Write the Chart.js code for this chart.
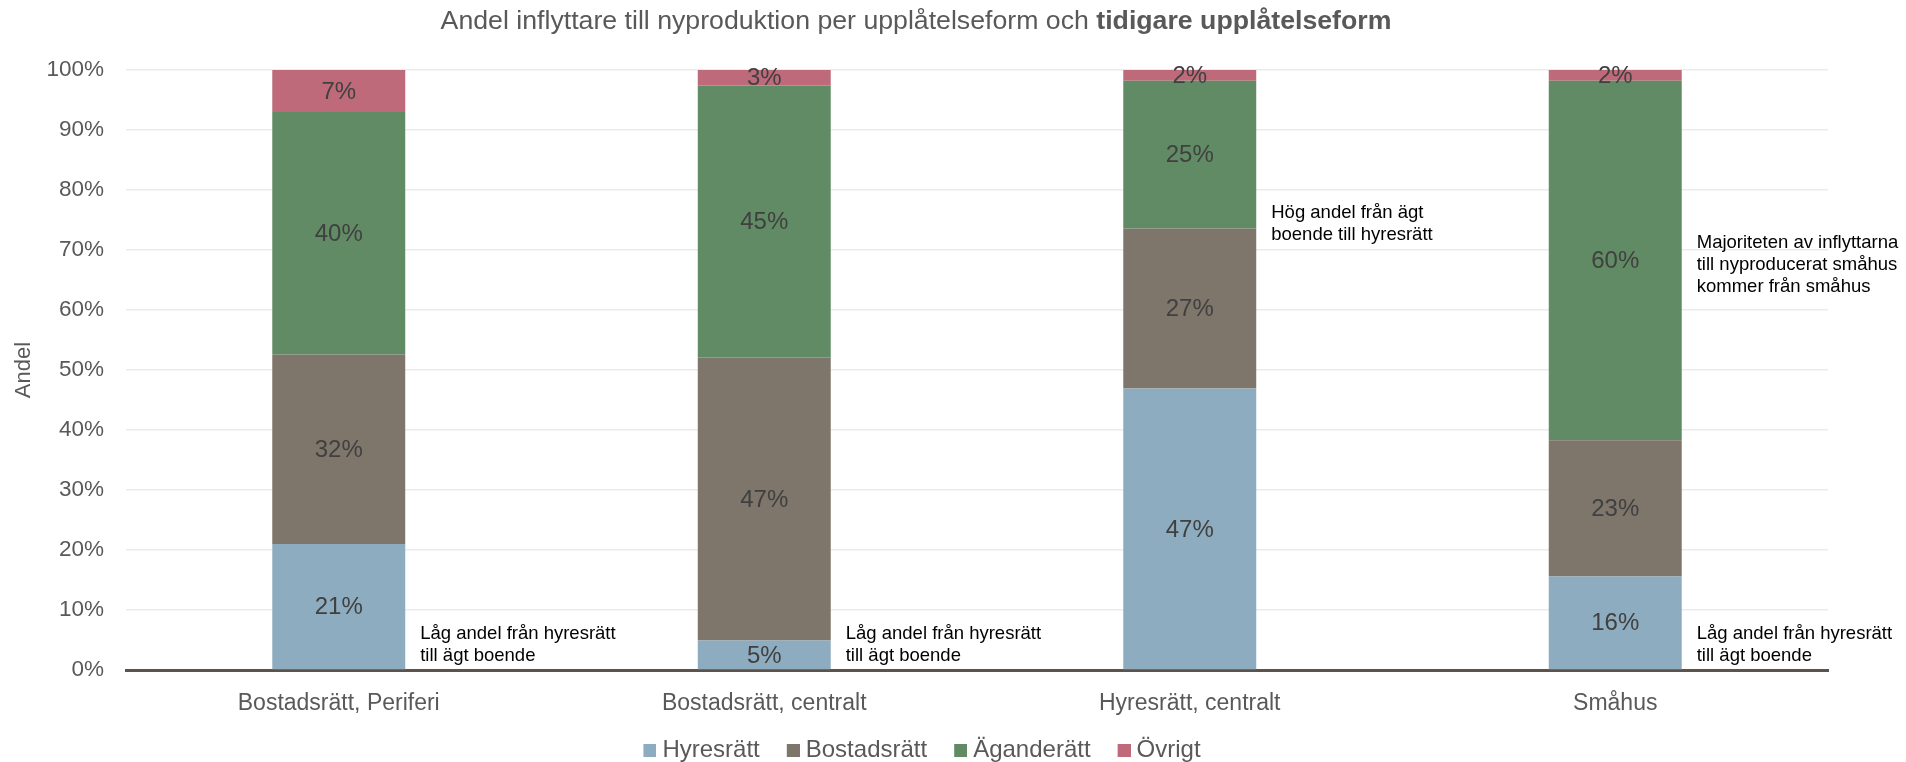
<!DOCTYPE html>
<html>
<head>
<meta charset="utf-8">
<script src="https://cdn.jsdelivr.net/npm/chart.js@4.4.1/dist/chart.umd.min.js"></script>
<style>
  html, body { margin: 0; padding: 0; background: #fff; }
  #wrap { width: 1906px; height: 762px; position: relative; }
</style>
</head>
<body>
<div id="wrap"><canvas id="chart"></canvas></div>
<script>
// Chart data
const categories = ['Bostadsrätt, Periferi', 'Bostadsrätt, centralt', 'Hyresrätt, centralt', 'Småhus'];
const seriesNames = ['Hyresrätt', 'Bostadsrätt', 'Äganderätt', 'Övrigt'];
const hyresratt = [21.0, 4.9, 46.9, 15.6];
const bostadsratt = [31.6, 47.2, 26.7, 22.7];
const aganderatt = [40.4, 45.3, 24.6, 59.9];
const ovrigt = [7.0, 2.6, 1.8, 1.8];
const yTicks = [0, 10, 20, 30, 40, 50, 60, 70, 80, 90, 100];

// Text notes next to the bars (category index, y value in %)
const noteCats = [0, 1, 2, 3, 3];
const noteValues = [6, 6, 76.2, 71.2, 6];
const noteTexts = [
  ['Låg andel från hyresrätt', 'till ägt boende'],
  ['Låg andel från hyresrätt', 'till ägt boende'],
  ['Hög andel från ägt', 'boende till hyresrätt'],
  ['Majoriteten av inflyttarna', 'till nyproducerat småhus', 'kommer från småhus'],
  ['Låg andel från hyresrätt', 'till ägt boende']
];

const FONT = '"Liberation Sans", Arial, sans-serif';
const colors = ['#8eacbf', '#7e756b', '#618b64', '#be6a7a'];

// small square legend markers, drawn on the right side of a wider canvas
// so the gap to the text matches the original
const legendBoxes = colors.map(c => {
  const cv = document.createElement('canvas');
  cv.width = 35;
  cv.height = 13;
  const g = cv.getContext('2d');
  g.fillStyle = c;
  g.fillRect(22, 0, 13, 13);
  return cv;
});

// Title with a bold tail
const titlePlugin = {
  id: 'mixedTitle',
  afterDraw(chart) {
    const ctx = chart.ctx;
    const partA = 'Andel inflyttare till nyproduktion per upplåtelseform och ';
    const partB = 'tidigare upplåtelseform';
    ctx.save();
    ctx.fillStyle = '#595959';
    ctx.textBaseline = 'middle';
    ctx.font = '26.7px ' + FONT;
    const wA = ctx.measureText(partA).width;
    ctx.font = 'bold 26.7px ' + FONT;
    const wB = ctx.measureText(partB).width;
    const x0 = chart.width / 2 - 37 - (wA + wB) / 2;
    ctx.font = '26.7px ' + FONT;
    ctx.fillText(partA, x0, 22);
    ctx.font = 'bold 26.7px ' + FONT;
    ctx.fillText(partB, x0 + wA, 22);
    ctx.restore();
  }
};

// Percentage labels centred in each segment
const valueLabels = {
  id: 'valueLabels',
  afterDatasetsDraw(chart) {
    const ctx = chart.ctx;
    ctx.save();
    ctx.font = '24px ' + FONT;
    ctx.fillStyle = '#404040';
    ctx.textAlign = 'center';
    ctx.textBaseline = 'middle';
    chart.data.datasets.forEach((ds, i) => {
      const meta = chart.getDatasetMeta(i);
      meta.data.forEach((bar, j) => {
        const p = bar.getProps(['x', 'y', 'base'], true);
        ctx.fillText(Math.round(ds.data[j]) + '%', p.x, (p.y + p.base) / 2 + 1);
      });
    });
    ctx.restore();
  }
};

// Notes placed beside the bars
const notesPlugin = {
  id: 'notes',
  afterDraw(chart) {
    const ctx = chart.ctx;
    const yScale = chart.scales.y;
    const meta = chart.getDatasetMeta(0);
    ctx.save();
    ctx.font = '18.5px ' + FONT;
    ctx.fillStyle = '#000';
    ctx.textAlign = 'left';
    ctx.textBaseline = 'middle';
    noteCats.forEach((c, k) => {
      const bar = meta.data[c];
      const p = bar.getProps(['x', 'width'], true);
      const x = p.x + p.width / 2 + 15;
      const y = yScale.getPixelForValue(noteValues[k]);
      noteTexts[k].forEach((line, n) => ctx.fillText(line, x, y + n * 22));
    });
    ctx.restore();
  }
};

const seriesData = [hyresratt, bostadsratt, aganderatt, ovrigt];

new Chart(document.getElementById('chart'), {
  type: 'bar',
  data: {
    labels: categories,
    datasets: seriesNames.map((name, i) => ({
      label: name,
      data: seriesData[i],
      backgroundColor: colors[i],
      borderWidth: 0,
      barPercentage: 0.3125,
      categoryPercentage: 1
    }))
  },
  options: {
    responsive: true,
    maintainAspectRatio: false,
    animation: false,
    layout: { padding: { top: 70, right: 78, left: 0, bottom: -10 } },
    plugins: {
      title: { display: false },
      tooltip: { enabled: false },
      legend: {
        position: 'bottom',
        labels: {
          font: { family: FONT, size: 24 },
          color: '#595959',
          usePointStyle: true,
          pointStyleWidth: 23,
          boxHeight: 13,
          padding: 11,
          generateLabels(chart) {
            const items = Chart.defaults.plugins.legend.labels.generateLabels(chart);
            items.forEach((it, i) => { it.pointStyle = legendBoxes[i]; });
            return items;
          }
        }
      }
    },
    scales: {
      x: {
        stacked: true,
        grid: { display: false, drawTicks: false },
        border: { display: true, color: '#5b534c', width: 3 },
        ticks: {
          font: { family: FONT, size: 23 },
          color: '#595959',
          padding: 20
        },
        afterFit(scale) { scale.height = 57; }
      },
      y: {
        stacked: true,
        min: 0,
        max: 100,
        afterBuildTicks(scale) { scale.ticks = yTicks.map(v => ({ value: v })); },
        grid: {
          color: '#ebebeb',
          lineWidth: 1.5,
          drawTicks: false
        },
        border: { display: false },
        ticks: {
          font: { family: FONT, size: 22.5 },
          color: '#595959',
          padding: 22,
          callback: v => v + '%'
        },
        title: {
          display: true,
          text: 'Andel',
          font: { family: FONT, size: 22 },
          color: '#595959',
          padding: { top: 11, bottom: 0 }
        },
        afterFit(scale) { scale.width = 126; }
      }
    }
  },
  plugins: [titlePlugin, valueLabels, notesPlugin]
});
</script>
</body>
</html>
